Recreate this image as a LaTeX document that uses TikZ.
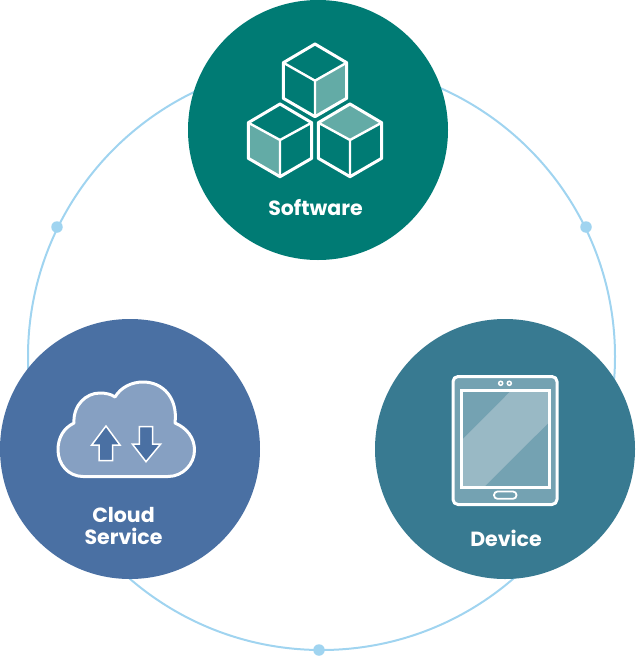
\documentclass[tikz,border=0pt]{standalone}
\usepackage{fontspec}
\setmainfont{Poppins}
\definecolor{softc}{HTML}{007B74}
\definecolor{softl}{HTML}{63ABA6}
\definecolor{cloudc}{HTML}{4A70A3}
\definecolor{cloudl}{HTML}{86A0C2}
\definecolor{devc}{HTML}{387A91}
\definecolor{devl}{HTML}{74A2B2}
\definecolor{devh}{HTML}{99B9C5}
\definecolor{ringc}{HTML}{A0D4F0}
\tikzset{
  disc/.style={circle,minimum size=260pt,inner sep=0pt,fill=#1},
  ringdot/.style={circle,minimum size=11.5pt,inner sep=0pt,fill=ringc},
  lbl/.style={text=white,font=\fontsize{20.5}{22}\selectfont\bfseries,align=center,inner sep=0pt},
  icon/.style={draw=white,line width=3pt,line join=round}
}
\begin{document}
\begin{tikzpicture}[x=1pt,y=-1pt]
\useasboundingbox (0,0) rectangle (635,656);
\coordinate (ringcentre) at (321.5,356.5);
\draw[ringc,line width=2pt] (ringcentre) circle[radius=293.5pt];
\node[ringdot] (dotl) at (57,227) {};
\node[ringdot] (dotr) at (586,227) {};
\node[ringdot] (dotb) at (319,650) {};
\node[disc=softc] (software) at (318,130) {};
\node[disc=cloudc] (cloud) at (130,449) {};
\node[disc=devc] (device) at (505,449) {};
% cubes
\fill[softl] (315,80.7) -- (346.7,62.7) -- (346.7,98.3) -- (315,116.7) -- cycle;
\fill[softl] (248.3,122.7) -- (280,140) -- (280,176.7) -- (248.3,158.3) -- cycle;
\fill[softl] (350,104) -- (381.7,122.7) -- (350,140) -- (318.3,122.7) -- cycle;
\draw[icon] (315,44) -- (346.7,62.7) -- (346.7,98.3) -- (315,116.7) -- (283.3,98.3) -- (283.3,62.7) -- cycle;
\draw[icon,line width=2.4pt] (283.3,62.7) -- (315,80.7) -- (346.7,62.7) (315,80.7) -- (315,116.7);
\draw[icon] (280,104) -- (311.7,122.7) -- (311.7,158.3) -- (280,176.7) -- (248.3,158.3) -- (248.3,122.7) -- cycle;
\draw[icon,line width=2.4pt] (248.3,122.7) -- (280,140) -- (311.7,122.7) (280,140) -- (280,176.7);
\draw[icon] (350,104) -- (381.7,122.7) -- (381.7,158.3) -- (350,176.7) -- (318.3,158.3) -- (318.3,122.7) -- cycle;
\draw[icon,line width=2.4pt] (318.3,122.7) -- (350,140) -- (381.7,122.7) (350,140) -- (350,176.7);
% cloud
\draw[icon,fill=cloudl] (83,476.5) .. controls (68,476.5) and (58,464) .. (58,450)
  .. controls (58,437) and (64,428) .. (74,423)
  .. controls (73,405) and (86,393) .. (100,393)
  .. controls (105,393) and (111,394) .. (115,397)
  .. controls (121,387) and (132,382) .. (143,382)
  .. controls (163,382) and (178,398) .. (175,423)
  .. controls (187,428) and (194.5,438) .. (194.5,450)
  .. controls (194.5,464) and (183,476.5) .. (168,476.5) -- cycle;
\draw[draw=white,line width=1.5pt,line join=miter,fill=cloudc] (106,426) -- (120,445) -- (112.7,445) -- (112.7,460.7) -- (99,460.7) -- (99,445) -- (91.7,445) -- cycle;
\draw[draw=white,line width=1.5pt,line join=miter,fill=cloudc] (146,461.7) -- (160.7,444) -- (152.7,444) -- (152.7,426.7) -- (139.3,426.7) -- (139.3,444) -- (132.3,444) -- cycle;
% tablet
\draw[icon,fill=devl,rounded corners=5pt] (453,376.5) rectangle (557,504.5);
\fill[devh] (511.7,390) -- (461,441) -- (461,487) -- (484,487) -- (549,422.3) -- (549,390) -- cycle;
\draw[icon,line join=miter] (461,390) rectangle (549,487);
\draw[draw=white,line width=1.5pt] (500.7,383.3) circle[radius=2pt] (509.3,383.3) circle[radius=2pt];
\draw[draw=white,line width=1.8pt,rounded corners=3.5pt] (494,491.5) rectangle (516.5,498.8);
% labels
\node[lbl] (softlabel) at (315.5,208) {Software};
\node[lbl] (cloudlabel) at (123.5,526) {Cloud\\Service};
\node[lbl] (devlabel) at (506,538.5) {Device};
\end{tikzpicture}
\end{document}
